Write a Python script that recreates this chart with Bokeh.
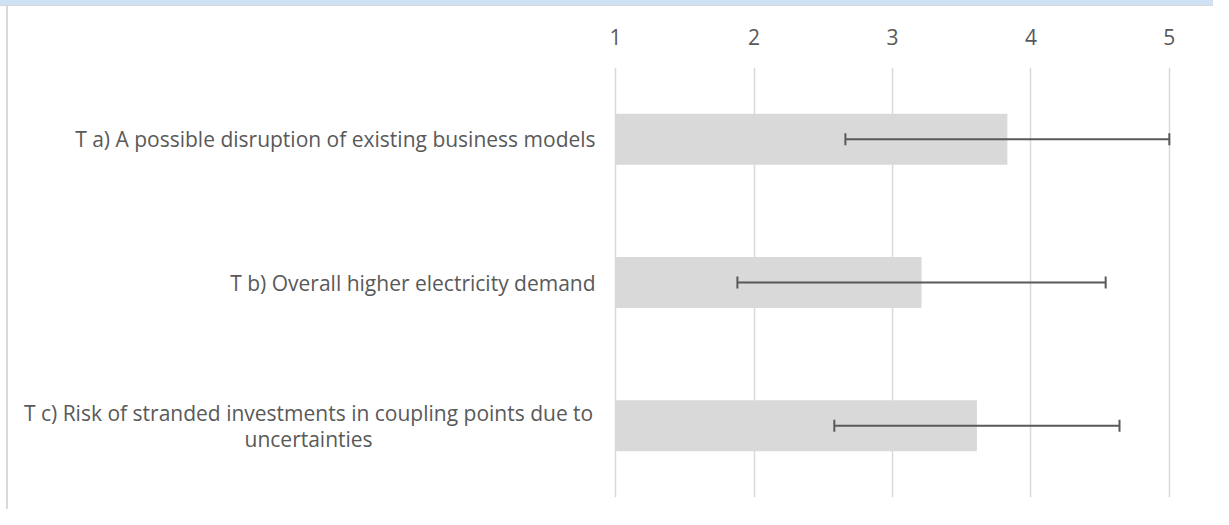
import textwrap
from bokeh.plotting import figure
from bokeh.models import ColumnDataSource, Whisker, TeeHead, Range1d, FactorRange, FixedTicker
from bokeh.core.properties import value
from bokeh.embed import file_html
from bokeh.resources import INLINE

# ---- data ----
categories = [
    "T a) A possible disruption of existing business models",
    "T b) Overall higher electricity demand",
    "T c) Risk of stranded investments in coupling points due to uncertainties",
]
mean_values = [3.83, 3.21, 3.61]
std_values = [1.17, 1.33, 1.03]
x_ticks = [1, 2, 3, 4, 5]

GREY = "#d9d9d9"
TXT = "#595959"
FONT = "Open Sans"
FS = "21px"

lower = [m - s for m, s in zip(mean_values, std_values)]
upper = [m + s for m, s in zip(mean_values, std_values)]
labels = [textwrap.fill(c, 60) for c in categories]

src = ColumnDataSource(dict(cat=categories, mean=mean_values, lower=lower, upper=upper,
                            label=labels, base=[x_ticks[0]] * len(categories)))

p = figure(width=1213, height=509, output_backend="svg", toolbar_location=None,
           y_range=FactorRange(*categories[::-1]),
           x_range=Range1d(-3.443, 5.319),
           x_axis_location="above", y_axis_location=None,
           min_border_left=0, min_border_right=0, min_border_top=67, min_border_bottom=12)
p.outline_line_color = None
p.background_fill_color = None
p.border_fill_color = None
# chart-frame chrome (top band and left border of the original screenshot)
p.styles = {
    "background-color": "#ffffff",
    "box-shadow": ("inset 0 5px 0 0 #cfe2f3, inset 0 6px 0 0 #d9d9d9, "
                   "inset 6px 0 0 0 #ffffff, inset 8px 0 0 0 #d9d9d9"),
}

# axis
ax = p.xaxis[0]
ax.ticker = FixedTicker(ticks=x_ticks)
ax.axis_line_color = None
ax.major_tick_line_color = None
ax.minor_tick_line_color = None
ax.major_label_text_color = TXT
ax.major_label_text_font = FONT
ax.major_label_text_font_size = FS
ax.major_label_standoff = 17

p.xgrid.ticker = FixedTicker(ticks=x_ticks)
p.xgrid.grid_line_color = GREY
p.xgrid.grid_line_width = 1.5
p.ygrid.grid_line_color = None

# bars
p.hbar(y="cat", left="base", right="mean", height=0.356, source=src,
       fill_color=GREY, line_color=None)

# error bars
w = Whisker(base="cat", lower="lower", upper="upper", source=src, dimension="width",
            line_color=TXT, line_width=2,
            lower_head=TeeHead(size=12, line_color=TXT, line_width=2),
            upper_head=TeeHead(size=12, line_color=TXT, line_width=2))
w.level = "overlay"
p.add_layout(w)

# category labels
single = ColumnDataSource(dict(x=[x_ticks[0]] * 2, y=categories[:2], t=labels[:2]))
p.text(x="x", y="y", text="t", source=single, x_offset=-20,
       text_align="right", text_baseline="middle", text_color=TXT,
       text_font=value(FONT), text_font_size=FS)
multi = ColumnDataSource(dict(x=[x_ticks[0]], y=categories[2:], t=labels[2:]))
p.text(x="x", y="y", text="t", source=multi, x_offset=-307,
       text_align="center", text_baseline="middle", text_color=TXT,
       text_font=value(FONT), text_font_size=FS, text_line_height=0.92)

open("out.html", "w").write(file_html(p, INLINE))
